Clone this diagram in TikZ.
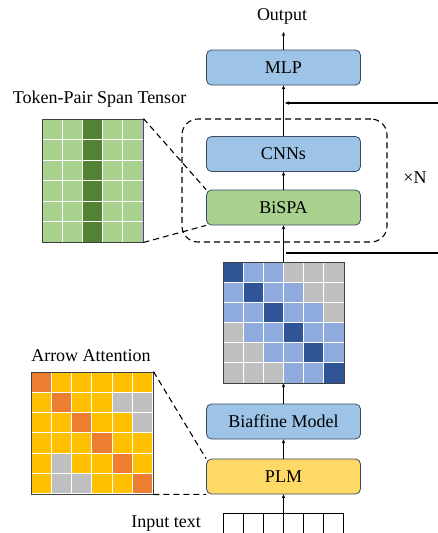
\documentclass[tikz,border=0pt]{standalone}
\usepackage{fontspec}
\setmainfont{Liberation Serif}
\usetikzlibrary{arrows.meta}
\definecolor{bluebox}{HTML}{9DC3E6}
\definecolor{greenbox}{HTML}{A9D18E}
\definecolor{yellowbox}{HTML}{FFD966}
\definecolor{edgec}{HTML}{3C4B64}
\definecolor{framec}{HTML}{404040}
\definecolor{dblue}{HTML}{2F5597}
\definecolor{lblue}{HTML}{8FAADC}
\definecolor{gry}{HTML}{BFBFBF}
\definecolor{orng}{HTML}{ED7D31}
\definecolor{gold}{HTML}{FFC000}
\definecolor{dgreen}{HTML}{548235}
\definecolor{lgreen}{HTML}{A9D18E}
\definecolor{purp}{HTML}{7030A0}
\begin{document}
\begin{tikzpicture}[x=1pt,y=-1pt,
  box/.style={draw=edgec, line width=0.8pt, rounded corners=5pt, minimum width=154pt, minimum height=35pt, inner sep=0pt, font=\fontsize{18}{20}\selectfont},
  lbl/.style={font=\fontsize{18}{20}\selectfont, inner sep=0pt},
  arr/.style={-{Stealth[length=4pt,width=3.5pt]}, line width=0.8pt},
  dline/.style={dash pattern=on 6pt off 4pt, line width=1.1pt},
  frame/.style={draw=framec, line width=0.9pt, inner sep=0pt},
  cell/.style={draw=white, line width=1pt}
]
\useasboundingbox (0,0) rectangle (438,533);

% boxes
\node[box, fill=bluebox] (mlp) at (283.5,67.5) {MLP};
\node[box, fill=bluebox] (cnn) at (283.5,154) {CNNs};
\node[box, fill=greenbox] (bispa) at (283.5,207.5) {BiSPA};
\node[box, fill=bluebox] (biaf) at (283.5,421.5) {Biaffine Model};
\node[box, fill=yellowbox] (plm) at (283.5,476.5) {PLM};

% loop frame
\node[draw=black, dline, rounded corners=16pt, minimum width=205pt, minimum height=123pt, inner sep=0pt] (loop) at (284.5,180.5) {};
\node[lbl] (xn) at (415,178) {×N};

% span matrix
\foreach \row [count=\r from 0] in {{dblue,lblue,lblue,gry,gry,gry},{lblue,dblue,lblue,lblue,gry,gry},{lblue,lblue,dblue,lblue,lblue,gry},{gry,lblue,lblue,dblue,lblue,lblue},{gry,gry,lblue,lblue,dblue,lblue},{gry,gry,gry,lblue,lblue,dblue}}
  \foreach \c [count=\k from 0] in \row
    \filldraw[cell, fill=\c] (223+\k*20.17,262+\r*20.17) rectangle ++(20.17,20.17);
\node[frame, minimum width=121pt, minimum height=121pt] (span) at (283.5,322.5) {};

% token-pair span tensor
\foreach \r in {0,...,5}
  \foreach \k in {0,...,4}{
    \ifnum\k=2 \def\cc{dgreen}\else\def\cc{lgreen}\fi
    \filldraw[cell, fill=\cc] (42+\k*20.2,119+\r*20.5) rectangle ++(20.2,20.5);
  }
\node[frame, minimum width=101pt, minimum height=123pt] (tpst) at (92.5,180.5) {};
\draw[purp, line width=1pt] (tpst.north east) -- (tpst.south east);
\node[lbl] (tpstl) at (99.5,99) {Token-Pair Span Tensor};

% arrow attention
\foreach \row [count=\r from 0] in {{orng,gold,gold,gold,gold,gold},{gold,orng,gold,gold,gry,gry},{gold,gold,orng,gold,gold,gry},{gold,gold,gold,orng,gold,gold},{gold,gry,gold,gold,orng,gold},{gold,gry,gry,gold,gold,orng}}
  \foreach \c [count=\k from 0] in \row
    \filldraw[cell, fill=\c] (31+\k*20.33,372+\r*20.33) rectangle ++(20.33,20.33);
\node[frame, minimum width=122pt, minimum height=122pt] (attn) at (92,433) {};
\node[lbl] (attnl) at (91,356) {Arrow Attention};

% input
\foreach \k in {0,...,5}
  \draw[line width=0.7pt] (223+\k*20,534) rectangle ++(20,-21);
\node[lbl] (inl) at (166,524) {Input text};
\coordinate (inbot) at (283.5,533);

% output
\node[lbl] (out) at (282,16) {Output};
\coordinate (outtip) at (283.5,32);

% arrows
\draw[arr] (inbot) -- (plm.south);
\draw[arr] (plm.north) -- (biaf.south);
\draw[arr] (biaf.north) -- (span.south);
\draw[arr] (span.north) -- (bispa.south);
\draw[arr] (bispa.north) -- (cnn.south);
\draw[arr] (cnn.north) -- (mlp.south);
\draw[arr] (mlp.north) -- (outtip);

\coordinate (fbR) at (438,103);
\coordinate (fbL) at (285,103);
\draw[arr, line width=1.1pt] (fbR) -- (fbL);
\coordinate (loR) at (438,253);
\coordinate (loL) at (286,253);
\draw[line width=1.1pt] (loL) -- (loR);

% zoom dashes
\draw[dline] (tpst.north east) -- (bispa.north west);
\draw[dline] (tpst.south east) -- (bispa.south west);
\draw[dline] (attn.north east) -- (plm.north west);
\draw[dline] (attn.south east) -- (plm.south west);
\end{tikzpicture}
\end{document}
